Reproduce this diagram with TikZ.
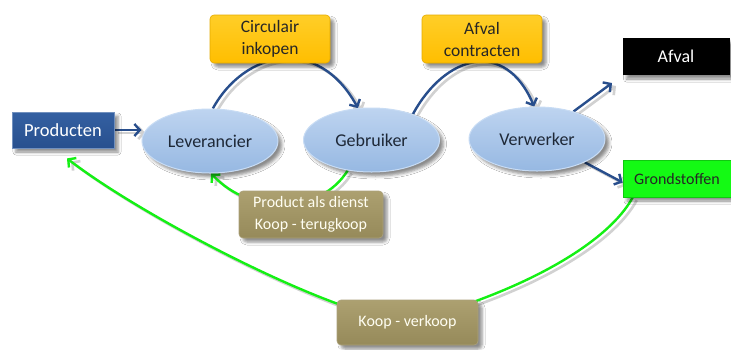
\documentclass[tikz,border=0pt]{standalone}
\usepackage{fontspec}
\setmainfont{Carlito}
\usetikzlibrary{shapes.geometric,arrows.meta,shadows.blur}
\definecolor{prodblue}{RGB}{40,80,142}
\definecolor{prodblueT}{RGB}{52,96,162}
\definecolor{ellT}{RGB}{190,212,240}
\definecolor{ellB}{RGB}{150,184,226}
\definecolor{ellEdge}{RGB}{200,220,244}
\definecolor{yelT}{RGB}{255,206,40}
\definecolor{yelB}{RGB}{255,190,0}
\definecolor{oliveT}{RGB}{172,160,112}
\definecolor{oliveB}{RGB}{150,138,90}
\definecolor{grnbox}{RGB}{20,250,20}
\definecolor{arrowblue}{RGB}{40,78,140}
\definecolor{linegreen}{RGB}{20,240,20}
\definecolor{darktext}{RGB}{30,40,55}
\pgfdeclarelayer{background}
\pgfsetlayers{background,main}
\begin{document}
\begin{tikzpicture}[x=1pt,y=-1pt,
  boxshadow/.style={blur shadow={shadow xshift=4pt,shadow yshift=-4pt,shadow opacity=45,shadow blur radius=3pt}},
  prodbox/.style={rectangle,draw=prodblueT!70!white,line width=0.8pt,top color=prodblueT,bottom color=prodblue,
    text=white,minimum width=102pt,minimum height=36pt,inner sep=0pt,boxshadow,
    font=\fontsize{18.5}{20}\selectfont},
  ellnode/.style={ellipse,draw=ellEdge,line width=1pt,top color=ellT,bottom color=ellB,text=darktext,
    minimum width=136pt,minimum height=64pt,inner sep=0pt,boxshadow,
    font=\fontsize{18}{20}\selectfont},
  yelbox/.style={rectangle,rounded corners=4pt,draw=yelB!90!black,line width=0.6pt,top color=yelT,bottom color=yelB,
    text=black!85,minimum width=120pt,minimum height=48pt,inner sep=0pt,align=center,boxshadow,
    font=\fontsize{17.5}{22}\selectfont},
  olivebox/.style={rectangle,rounded corners=4pt,draw=oliveB!80!white,line width=0.6pt,top color=oliveT,bottom color=oliveB,
    text=white!95!yellow,align=center,inner sep=0pt,boxshadow,
    font=\fontsize{16}{22}\selectfont},
  blackbox/.style={rectangle,fill=black,text=white,minimum width=107pt,minimum height=37pt,inner sep=0pt,boxshadow,
    font=\fontsize{18}{20}\selectfont},
  greenbox/.style={rectangle,fill=grnbox,draw=grnbox!80!black,line width=0.5pt,text=black!85,minimum width=108pt,
    minimum height=37pt,inner sep=0pt,boxshadow,font=\fontsize{16}{18}\selectfont},
  lineshadow/.style={preaction={draw=black!18,line width=2.6pt,transform canvas={xshift=4pt,yshift=-3pt}}},
  bluearrow/.style={draw=arrowblue,line width=2.4pt,-{Straight Barb[length=5.5pt,width=12pt]},lineshadow},
  greenarrow/.style={draw=linegreen,line width=2.4pt,-{Straight Barb[length=5.5pt,width=12pt]},lineshadow}
]
\useasboundingbox (0,0) rectangle (731,349);

% nodes
\node[prodbox] (prod) at (63,130) {Producten};
\node[ellnode] (lev) at (210,141) {Leverancier};
\node[ellnode] (geb) at (371.5,140) {Gebruiker};
\node[ellnode] (ver) at (537,139) {Verwerker};
\node[yelbox] (ci) at (270,39) {Circulair\\inkopen};
\node[yelbox] (ac) at (482,39) {Afval\\contracten};
\node[blackbox] (afval) at (676,56.5) {Afval};
\node[greenbox] (gron) at (677,178.5) {Grondstoffen};
\node[olivebox,minimum width=144pt,minimum height=47pt] (pad) at (311,214.5) {Product als dienst\\Koop - terugkoop};
\node[olivebox,minimum width=141pt,minimum height=45pt] (kv) at (407.5,322.5) {Koop - verkoop};
\coordinate (afvtip) at (612,83);

% connectors
\begin{pgfonlayer}{background}
\fill[white] (0,0) rectangle (731,349);
\draw[bluearrow] (prod.east) -- (prod.east -| lev.west);
\draw[bluearrow] (lev.85) .. controls (245,50) and (318,35) .. (geb.113);
\draw[bluearrow] (geb.32) .. controls (445,55) and (505,38) .. (ver.95);
\draw[bluearrow] (ver.37) -- (afvtip);
\draw[bluearrow] (ver.-26) -- ([yshift=-4pt]gron.west);
\draw[greenarrow] (geb.-128) .. controls (320,215) and (250,215) .. (lev.-88);
\draw[greenarrow] ([xshift=10pt]gron.south west) .. controls (610,240) and (530,290) .. (kv.center)
  .. controls (330,315) and (140,215) .. ([xshift=4pt,yshift=-10pt]prod.south);
\end{pgfonlayer}
\end{tikzpicture}
\end{document}
